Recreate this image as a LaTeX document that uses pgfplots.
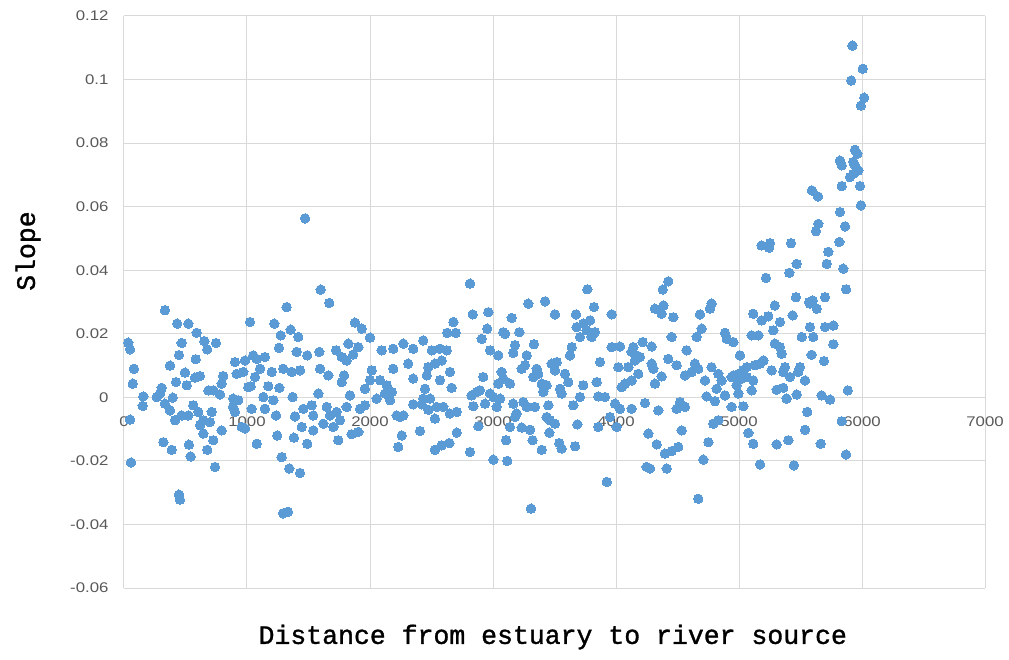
\documentclass[border=0pt]{standalone}
\usepackage{pgfplots}
\pgfplotsset{compat=1.18}
\usepackage{pgfplotstable}
\usepackage{fontspec}
\setmainfont{Liberation Sans}
\newfontfamily\tickfont[FakeStretch=1.2]{Liberation Sans}
\newfontfamily\labelfont[FakeBold=1.2]{Liberation Mono}
\definecolor{dotblue}{HTML}{5B9BD5}
\definecolor{gridgray}{HTML}{D9D9D9}
\definecolor{tickgray}{HTML}{595959}
\pgfplotstableread{
x y
333 0.0274
433 0.0232
523 0.0232
591 0.0203
35 0.0172
49 0.0151
469 0.0171
653 0.0177
677 0.0151
748 0.0171
447 0.0133
583 0.0120
374 0.0100
81 0.0090
71 0.0043
496 0.0078
577 0.0062
618 0.0067
423 0.0048
510 0.0038
807 0.0067
794 0.0043
306 0.0030
293 0.0012
266 0.0001
157 0.0003
152 -0.0027
396 -0.0001
686 0.0022
726 0.0022
780 0.0009
333 -0.0020
374 -0.0041
415 -0.0072
469 -0.0057
563 -0.0025
604 -0.0046
523 -0.0057
645 -0.0072
699 -0.0078
713 -0.0046
618 -0.0088
645 -0.0114
49 -0.0070
794 -0.0104
320 -0.0141
388 -0.0165
528 -0.0149
542 -0.0186
677 -0.0165
726 -0.0135
57 -0.0205
740 -0.0219
447 -0.0306
455 -0.0322
888 -0.0004
929 -0.0009
886 -0.0030
902 -0.0046
957 -0.0093
984 -0.0098
902 0.0111
984 0.0116
916 0.0074
970 0.0080
1010 0.0032
1024 0.0237
1599 0.0339
1669 0.0297
1322 0.0284
1222 0.0232
1355 0.0213
1417 0.0190
1274 0.0195
1260 0.0156
1878 0.0235
1933 0.0216
2000 0.0188
1404 0.0143
1490 0.0132
1588 0.0143
1724 0.0148
1770 0.0127
1824 0.0169
1864 0.0135
1905 0.0158
1810 0.0116
1051 0.0132
1146 0.0127
1079 0.0121
1106 0.0090
1065 0.0064
1201 0.0080
1295 0.0090
1363 0.0080
1431 0.0085
1594 0.0090
1661 0.0069
1789 0.0069
1770 0.0048
1030 0.0035
1173 0.0035
1263 0.0030
1959 0.0027
1133 0.0001
1214 -0.0009
1371 0.0001
1580 0.0012
1837 0.0006
1038 -0.0036
1146 -0.0036
1236 -0.0057
1390 -0.0060
1458 -0.0036
1526 -0.0025
1539 -0.0057
1648 -0.0030
1675 -0.0057
1729 -0.0046
1756 -0.0072
1810 -0.0030
1621 -0.0083
1702 -0.0093
1919 -0.0036
1959 -0.0025
1445 -0.0093
1539 -0.0104
1246 -0.0120
1382 -0.0127
1490 -0.0146
1742 -0.0135
1851 -0.0116
1905 -0.0109
1079 -0.0146
1282 -0.0188
1344 -0.0224
1431 -0.0238
1293 -0.0365
1333 -0.0360
1472 0.0563
2813 0.0358
2835 0.0261
2962 0.0268
2678 0.0237
2628 0.0203
2697 0.0203
2908 0.0184
2953 0.0216
2095 0.0148
2189 0.0153
2271 0.0169
2352 0.0153
2433 0.0179
2502 0.0148
2569 0.0153
2624 0.0148
2583 0.0116
2528 0.0106
2474 0.0095
2461 0.0069
2311 0.0106
2189 0.0090
2014 0.0085
2650 0.0080
2352 0.0059
2569 0.0054
2664 0.0030
2000 0.0054
2081 0.0054
2136 0.0038
2177 0.0017
2122 0.0012
2054 -0.0004
2163 -0.0009
2447 0.0027
2433 -0.0004
2488 -0.0004
2352 -0.0022
2420 -0.0022
2542 -0.0030
2596 -0.0030
2650 -0.0051
2705 -0.0046
2474 -0.0039
2217 -0.0057
2271 -0.0057
2244 -0.0062
2528 -0.0067
2826 0.0006
2867 0.0017
2894 0.0022
2840 -0.0028
2881 -0.0091
2406 -0.0106
2258 -0.0120
2705 -0.0111
2230 -0.0156
2528 -0.0165
2583 -0.0151
2645 -0.0144
2813 -0.0172
3767 0.0340
3287 0.0295
3423 0.0302
3504 0.0261
3675 0.0261
3821 0.0284
3152 0.0250
3084 0.0205
3098 0.0200
3214 0.0205
3333 0.0167
3179 0.0164
3165 0.0140
2976 0.0148
3043 0.0132
3274 0.0132
3680 0.0221
3734 0.0232
3789 0.0242
3707 0.0190
3802 0.0190
3829 0.0205
3761 0.0211
3640 0.0158
3626 0.0132
3870 0.0111
3518 0.0111
3477 0.0106
3504 0.0085
3260 0.0101
3233 0.0090
3355 0.0090
3368 0.0074
3328 0.0064
3070 0.0080
3084 0.0059
3138 0.0043
3043 0.0043
2921 0.0064
3585 0.0074
3612 0.0048
3545 0.0027
3558 0.0012
3396 0.0043
3409 0.0017
3436 0.0038
3734 0.0038
3843 0.0048
3856 0.0003
3911 0.0001
3707 0.0001
3653 -0.0025
3450 -0.0025
2976 0.0012
3003 0.0001
3057 -0.0004
2935 -0.0020
3030 -0.0030
3165 -0.0020
3247 -0.0015
3274 -0.0030
3341 -0.0030
3192 -0.0051
3179 -0.0062
3436 -0.0062
3463 -0.0072
3504 -0.0083
3138 -0.0093
3233 -0.0095
3301 -0.0102
3458 -0.0111
3686 -0.0085
3856 -0.0093
3106 -0.0135
3322 -0.0135
3396 -0.0165
3539 -0.0144
3558 -0.0161
3667 -0.0154
3003 -0.0196
3116 -0.0200
3925 -0.0266
3309 -0.0350
4425 0.0365
4380 0.0339
4317 0.0279
4385 0.0289
4371 0.0263
4466 0.0252
3965 0.0261
4683 0.0261
4764 0.0279
4777 0.0295
4696 0.0216
4656 0.0190
4886 0.0203
4900 0.0184
4452 0.0190
3965 0.0158
4032 0.0160
4141 0.0158
4217 0.0174
4290 0.0160
4127 0.0143
4168 0.0132
4195 0.0127
4154 0.0116
4425 0.0121
4574 0.0148
4493 0.0101
4290 0.0106
4304 0.0090
4371 0.0066
4317 0.0043
4019 0.0095
4100 0.0095
4181 0.0074
4127 0.0053
4073 0.0043
4046 0.0032
4642 0.0106
4669 0.0090
4615 0.0080
4561 0.0069
4724 0.0053
4777 0.0095
4832 0.0074
4859 0.0053
4818 0.0027
4737 0.0003
4805 -0.0012
4886 0.0006
3992 -0.0020
4032 -0.0036
3951 -0.0062
4005 -0.0093
4127 -0.0036
4235 -0.0018
4344 -0.0041
4493 -0.0036
4520 -0.0015
4561 -0.0030
4534 -0.0104
4263 -0.0114
4331 -0.0148
4398 -0.0177
4452 -0.0169
4506 -0.0156
4791 -0.0083
4832 -0.0072
4751 -0.0141
4710 -0.0196
4249 -0.0219
4276 -0.0224
4412 -0.0224
4669 -0.0319
5291 0.0289
5577 0.0295
5632 0.0279
5116 0.0263
5184 0.0242
5238 0.0255
5333 0.0237
5279 0.0211
5436 0.0258
5577 0.0221
5699 0.0221
5767 0.0226
5604 0.0190
5510 0.0190
5767 0.0167
4954 0.0174
5103 0.0195
5157 0.0195
5291 0.0169
5333 0.0158
5347 0.0137
5590 0.0134
5691 0.0114
5008 0.0132
5198 0.0116
5171 0.0106
5130 0.0101
5063 0.0095
5035 0.0085
4995 0.0074
4954 0.0069
4940 0.0064
5022 0.0059
5063 0.0064
5116 0.0053
4981 0.0038
5103 0.0022
4995 0.0012
5265 0.0085
5374 0.0095
5360 0.0080
5414 0.0064
5496 0.0095
5482 0.0080
5537 0.0053
5306 0.0024
5360 0.0030
5387 -0.0004
5469 0.0009
5672 0.0006
5740 -0.0007
5884 0.0022
4940 -0.0030
5035 -0.0028
5555 -0.0046
5537 -0.0102
5835 -0.0075
5076 -0.0112
5116 -0.0146
5306 -0.0148
5401 -0.0135
5664 -0.0146
5870 -0.0180
5171 -0.0211
5447 -0.0214
5645 0.0546
5626 0.0523
5862 0.0538
5184 0.0478
5252 0.0485
5246 0.0471
5423 0.0485
5816 0.0489
5726 0.0458
5713 0.0420
5848 0.0405
5469 0.0420
5409 0.0392
5219 0.0376
5870 0.0340
5463 0.0315
5571 0.0300
5599 0.0305
5699 0.0315
5593 0.0651
5642 0.0632
5922 0.1107
6006 0.1034
5912 0.0997
6018 0.0943
5991 0.0918
5943 0.0779
5962 0.0767
5929 0.0741
5943 0.0730
5970 0.0714
5929 0.0703
5902 0.0693
5821 0.0745
5835 0.0730
5835 0.0665
5984 0.0665
5991 0.0604
5821 0.0583
}\slopedata
\begin{document}
\begin{tikzpicture}
\useasboundingbox (-124pt,-71pt) rectangle (885pt,588pt);
\begin{axis}[
  at={(0,0)}, anchor=south west,
  scale only axis,
  width=861pt, height=572pt,
  xmin=0, xmax=7000, ymin=-0.06, ymax=0.12,
  xtick={0,1000,...,7000},
  xticklabels={0,1000,2000,3000,4000,5000,6000,7000},
  ytick={-0.06,-0.04,-0.02,0,0.02,0.04,0.06,0.08,0.1,0.12},
  yticklabels={-0.06,-0.04,-0.02,0,0.02,0.04,0.06,0.08,0.1,0.12},
  axis line style={draw=none},
  major tick length=0pt,
  grid=major,
  major grid style={draw=gridgray, line width=1pt},
  ticklabel style={font=\tickfont\fontsize{14}{16}\selectfont, text=tickgray},
  xticklabel style={yshift=175pt},
  yticklabel style={xshift=-12pt},
  clip=false,
  xlabel={Distance from estuary to river source},
  ylabel={Slope},
  xlabel style={font=\labelfont\fontsize{26.5}{30}\selectfont, at={(axis description cs:0.498,-0.0857)}, anchor=center},
  ylabel style={font=\labelfont\fontsize{26.5}{30}\selectfont, at={(axis description cs:-0.1115,0.589)}, anchor=center, rotate=0},
]
\addplot[only marks, color=dotblue, mark=*, mark size=4.7pt, mark options={draw=dotblue, fill=dotblue, line width=0pt}] table[x=x, y=y] {\slopedata};
\end{axis}
\end{tikzpicture}
\end{document}
